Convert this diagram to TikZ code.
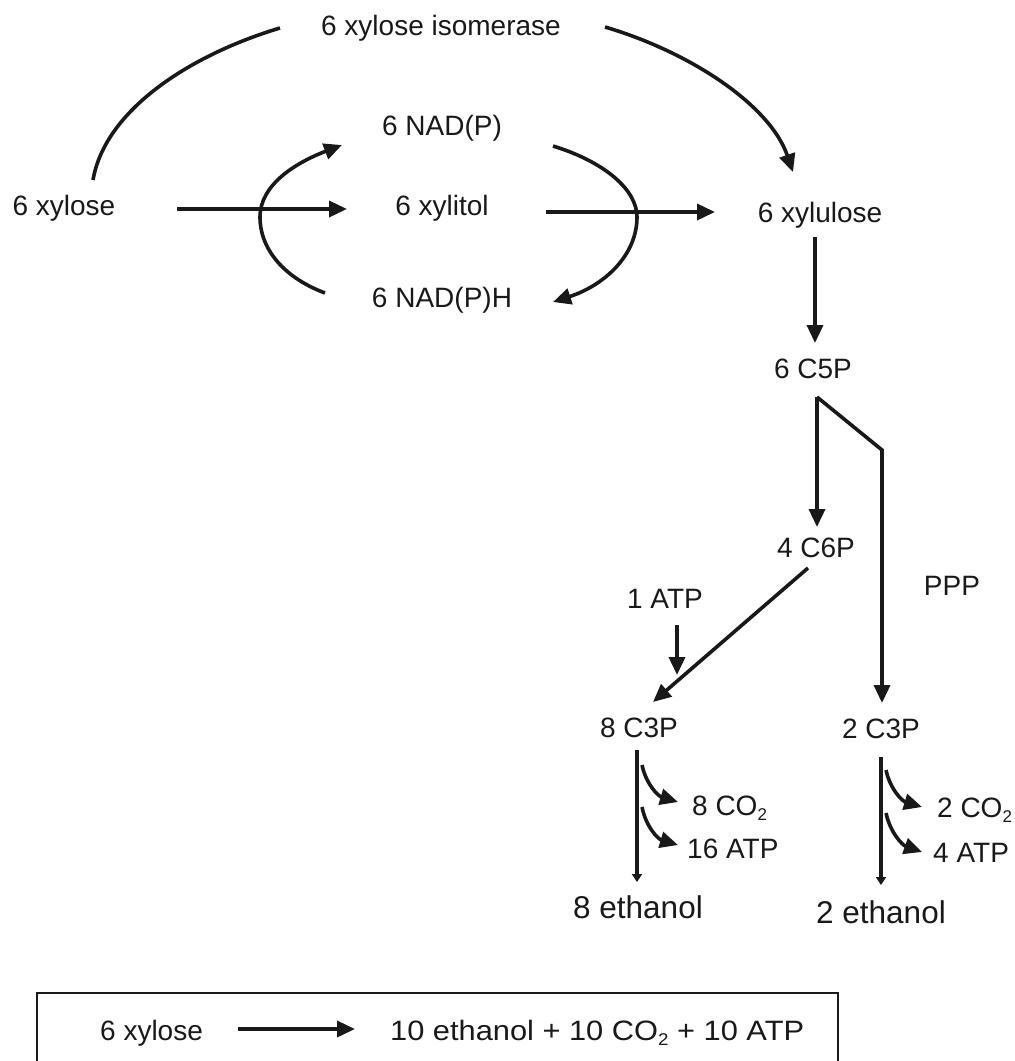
\documentclass[tikz,border=0pt]{standalone}
\usepackage{fontspec}
\setmainfont{Liberation Sans}
\usetikzlibrary{arrows.meta,calc}
\newcommand{\subtwo}{\raisebox{-0.4ex}{\fontsize{17}{17}\selectfont 2}}
\begin{document}
\begin{tikzpicture}[x=1pt,y=-1pt,
  lbl/.style={inner sep=0pt, font=\fontsize{28}{33}\selectfont, text=black!90, anchor=base},
  big/.style={lbl, font=\fontsize{31.5}{36}\selectfont},
  arr/.style={line width=3.6pt, draw=black!90, -{Triangle[length=18pt,width=16pt]}},
  ln/.style={line width=3.6pt, draw=black!90},
  tinyarr/.style={line width=3.6pt, draw=black!90, -{Triangle[length=8pt,width=10pt]}}
]
\clip (0,0) rectangle (1015,1061);
\fill[white] (0,0) rectangle (1015,1061);

% nodes
\node[lbl] (xylose) at (64,215) {6 xylose};
\node[lbl] (iso) at (441,35) {6 xylose isomerase};
\node[lbl] (nad) at (442,135) {6 NAD(P)};
\node[lbl] (xylitol) at (442,215) {6 xylitol};
\node[lbl] (nadh) at (442,307) {6 NAD(P)H};
\node[lbl] (xylulose) at (820,222) {6 xylulose};
\node[lbl] (c5p) at (813,378) {6 C5P};
\node[lbl] (c6p) at (816,557) {4 C6P};
\node[lbl] (ppp) at (952,595) {PPP};
\node[lbl] (atp1) at (665,608) {1 ATP};
\node[lbl] (c3pa) at (639,737) {8 C3P};
\node[lbl] (c3pb) at (881,738) {2 C3P};
\node[lbl, anchor=base west] (co2a) at (692,815) {8 CO\subtwo};
\node[lbl, anchor=base west] (atp16) at (687,858) {16 ATP};
\node[lbl, anchor=base west] (co2b) at (937,817) {2 CO\subtwo};
\node[lbl, anchor=base west] (atp4) at (933,862) {4 ATP};
\node[big] (eth8) at (638,918) {8 ethanol};
\node[big] (eth2) at (881,923) {2 ethanol};
\node[lbl, anchor=base west] (sumL) at (100,1040) {6 xylose};
\node[lbl, anchor=base west] (sumR) at (390,1040) {\scalebox{1.1}[1]{10 ethanol + 10 CO\subtwo{} + 10 ATP}};

% summary box
\draw[line width=2pt, draw=black!90] (37,993) rectangle (838,1100);

% main arrows
\draw[arr] ($(xylose.base)+(113,-6)$) -- ($(xylitol.base)+(-95,-6)$);
\draw[arr] ($(xylitol.base)+(104,-3)$) -- ($(xylulose.base)+(-105,-10)$);

% isomerase bypass
\draw[ln] ($(xylose.base)+(29,-35)$) .. controls (105,110) and (190,55) .. ($(iso.base)+(-161,-7)$);
\draw[arr] ($(iso.base)+(164,-8)$) .. controls (690,52) and (770,105) .. ($(xylulose.base)+(-27,-50)$);

% cofactor cycle
\draw[arr] ($(nadh.base)+(-117,-14)$) .. controls (285,278) and (260,250) .. (260,217)
  .. controls (260,185) and (295,163) .. ($(nad.base)+(-100,10)$);
\draw[arr] ($(nad.base)+(111,11)$) .. controls (605,162) and (637,190) .. (637,217)
  .. controls (637,255) and (605,285) .. ($(nadh.base)+(111,-5)$);

% lower pathway
\draw[arr] ($(xylulose.base)+(-5,15)$) -- ($(c5p.base)+(2,-35)$);
\draw[arr] ($(c5p.base)+(4,19)$) -- ($(c6p.base)+(1,-30)$);
\draw[arr, line join=miter] ($(c5p.base)+(4,19)$) -- ($(c5p.base)+(69,72)$) -- ($(c3pb.base)+(1,-35)$);
\draw[arr] ($(c6p.base)+(-8,11)$) -- ($(c3pa.base)+(14,-35)$);
\draw[arr] ($(atp1.base)+(12,17)$) -- ($(c3pa.base)+(38,-62)$);

% fermentation branches
\draw[tinyarr] ($(c3pa.base)+(-2,13)$) -- ($(eth8.base)+(-1,-36)$);
\draw[arr] ($(c3pa.base)+(3,28)$) .. controls (646,784) and (658,796) .. ($(co2a.base west)+(-14,-13)$);
\draw[arr] ($(c3pa.base)+(3,70)$) .. controls (646,827) and (658,839) .. ($(atp16.base west)+(-9,-13)$);

\draw[tinyarr] ($(c3pb.base)+(0,19)$) -- ($(eth2.base)+(0,-38)$);
\draw[arr] ($(c3pb.base)+(5,32)$) .. controls (890,789) and (902,801) .. ($(co2b.base west)+(-15,-10)$);
\draw[arr] ($(c3pb.base)+(5,75)$) .. controls (890,832) and (902,845) .. ($(atp4.base west)+(-11,-10)$);

% summary arrow
\draw[arr] ($(sumL.base west)+(138,-11)$) -- ($(sumR.base west)+(-35,-11)$);
\end{tikzpicture}
\end{document}
